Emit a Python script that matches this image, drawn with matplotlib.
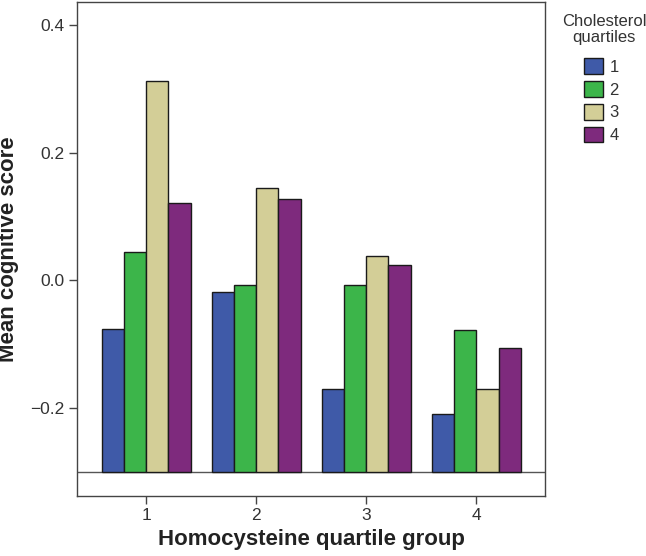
import numpy as np
import matplotlib
matplotlib.use("Agg")
import matplotlib.pyplot as plt

plt.rcParams['font.family'] = ['Liberation Sans', 'DejaVu Sans']

# data
groups = [1, 2, 3, 4]
chol_labels = ['1', '2', '3', '4']
chol_q1 = [-0.076, -0.019, -0.171, -0.210]
chol_q2 = [0.044, -0.007, -0.008, -0.078]
chol_q3 = [0.312, 0.145, 0.039, -0.170]
chol_q4 = [0.121, 0.127, 0.024, -0.106]
colors = ['#3F5AA8', '#3CB54A', '#D3CE97', '#7E2A7D']
yticks = [-0.2, 0.0, 0.2, 0.4]
ytick_labels = ['\u22120.2', '0.0', '0.2', '0.4']

base = -0.3
series = [chol_q1, chol_q2, chol_q3, chol_q4]

fig = plt.figure(figsize=(6.46, 5.56), dpi=100)
ax = fig.add_axes([0.1197, 0.108, 0.7240, 0.889])

x = np.array(groups, dtype=float)
width = 0.2025
for i, vals in enumerate(series):
    offs = (i - 1.5) * width
    heights = np.array(vals) - base
    ax.bar(x + offs, heights, width=width, bottom=base, color=colors[i],
           edgecolor='#1a1a1a', linewidth=1.0, label=chol_labels[i], zorder=3)

ax.axhline(base, color='#555555', linewidth=1.0, zorder=2)

ax.set_xlim(0.375, 4.625)
ax.set_ylim(-0.338, 0.437)
ax.set_xticks(groups)
ax.set_xticklabels([str(g) for g in groups])
ax.set_yticks(yticks)
ax.set_yticklabels(ytick_labels)

for s in ax.spines.values():
    s.set_color('#444444')
    s.set_linewidth(1.0)
ax.tick_params(axis='both', direction='out', length=6, width=1.0,
               color='#444444', labelcolor='#333333', labelsize=12.5, pad=3)

ax.set_xlabel('Homocysteine quartile group', fontsize=16, fontweight='bold',
              color='#222222', labelpad=4)
ax.set_ylabel('Mean cognitive score', fontsize=16, fontweight='bold',
              color='#222222', labelpad=8)

# legend title drawn separately so it can sit wider than the legend box
fig.text(0.935, 0.947, 'Cholesterol\nquartiles', ha='center', va='center',
         fontsize=12, color='#333333', linespacing=1.15)
leg = fig.legend(loc='upper left', bbox_to_anchor=(0.904, 0.895),
                 frameon=False, fontsize=12,
                 handlelength=1.13, handleheight=1.06,
                 handletextpad=0.4, labelspacing=0.38, borderpad=0,
                 borderaxespad=0)
for t in leg.get_texts():
    t.set_color('#333333')

fig.savefig('out.png', dpi=100)
